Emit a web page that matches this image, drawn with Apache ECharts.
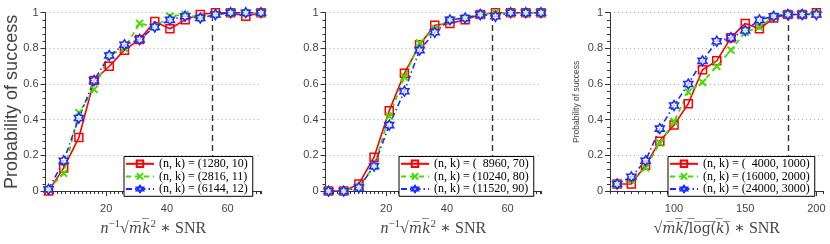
<!DOCTYPE html>
<html><head><meta charset="utf-8">
<script src="https://cdn.jsdelivr.net/npm/echarts@6/dist/echarts.min.js"></script>
<style>html,body{margin:0;padding:0;background:#fff}#c{width:830px;height:244px}</style>
</head><body><div id="c"></div>
<script>
// ---------- data ----------
const xsA = [1, 6, 11, 16, 21, 26, 31, 36, 41, 46, 51, 56, 61, 66, 71];
const xsB = [60, 70, 80, 90, 100, 110, 120, 130, 140, 150, 160, 170, 180, 190, 200];

const p1Names = ['(n, k) = (1280, 10)', '(n, k) = (2816, 11)', '(n, k) = (6144, 12)'];
const p1Red   = [0, 0.13, 0.30, 0.62, 0.70, 0.79, 0.85, 0.95, 0.91, 0.96, 0.99, 1, 1, 0.98, 1];
const p1Green = [0.01, 0.10, 0.44, 0.57, 0.76, 0.80, 0.94, 0.92, 0.98, 0.99, 0.97, 0.99, 1, 1, 1];
const p1Blue  = [0.01, 0.17, 0.41, 0.62, 0.76, 0.82, 0.85, 0.92, 0.96, 0.98, 0.97, 0.99, 1, 1, 1];

const p2Names = ['(n, k) = (\u20078960, 70)', '(n, k) = (10240, 80)', '(n, k) = (11520, 90)'];
const p2Red   = [0, 0, 0.04, 0.19, 0.45, 0.66, 0.82, 0.93, 0.94, 0.96, 0.99, 1, 1, 1, 1];
const p2Green = [0, 0, 0.025, 0.14, 0.42, 0.64, 0.83, 0.91, 0.96, 0.97, 0.99, 1, 1, 1, 1];
const p2Blue  = [0, 0, 0.02, 0.14, 0.37, 0.56, 0.79, 0.89, 0.96, 0.97, 0.99, 0.98, 1, 1, 1];

const p3Names = ['(n, k) = (\u20074000, 1000)', '(n, k) = (16000, 2000)', '(n, k) = (24000, 3000)'];
const p3Red   = [0.04, 0.04, 0.145, 0.28, 0.37, 0.49, 0.68, 0.73, 0.86, 0.94, 0.91, 0.97, 0.99, 0.99, 1];
const p3Green = [0.04, 0.06, 0.13, 0.27, 0.39, 0.555, 0.61, 0.70, 0.79, 0.89, 0.92, 0.98, 0.99, 0.99, 0.995];
const p3Blue  = [0.04, 0.08, 0.17, 0.35, 0.48, 0.60, 0.73, 0.84, 0.86, 0.90, 0.96, 0.98, 0.99, 0.99, 0.99];

const ticksA = [20, 40, 60];
const ticksB = [100, 150, 200];
const thresholdA = 55;
const thresholdB = 180;

// ---------- styling ----------
const RED = '#ff0000', GREEN = '#44dd00', BLUE = '#1a2cff';
const AX = '#333333', LAB = '#444444';
const SERIF = '"Liberation Serif", "DejaVu Serif", serif';
const SANS = '"Liberation Sans", Arial, sans-serif';
const HEX = 'path://M10,0L12.89,5L18.66,5L15.77,10L18.66,15L12.89,15L10,20L7.11,15L1.34,15L4.23,10L1.34,5L7.11,5Z';
const CROSS = 'path://M0,0L10,10M10,0L0,10';

const grids = [
  {left: 45.5, top: 12.7, width: 215.5, height: 188.3},
  {left: 325.5, top: 12.7, width: 215.5, height: 188.3},
  {left: 610, top: 12.7, width: 213.5, height: 188.3}
];

const ovl = s => s.split('').map(c => c + '\u0305').join('');
const richX = {
  i: {fontFamily: SERIF, fontStyle: 'italic', fontSize: 16, color: LAB},
  n: {fontFamily: SERIF, fontSize: 16, color: LAB},
  sup: {fontFamily: SERIF, fontSize: 11, color: LAB, verticalAlign: 'top', padding: [0,0,6,0]},
  ov: {fontFamily: '"DejaVu Serif", serif', fontStyle: 'italic', fontSize: 14, color: LAB},
  ovn: {fontFamily: '"DejaVu Serif", serif', fontSize: 14, color: LAB}
};
const nameA = '{i|n}{sup|\u22121}{n|\u221A}{ov|' + ovl('mk') + '}{sup|2}{n| \u2217 SNR}';
const nameB = '{n|\u221A}{ov|' + ovl('mk') + '}{ovn|' + ovl('/log(') + '}{ov|' + ovl('k') + '}{ovn|' + ovl(')') + '}{n| \u2217 SNR}';

function xAxes(gi, min, max, minorInt, majors, name) {
  return [
    {gridIndex: gi, type: 'value', position: 'bottom', min: min, max: max, interval: minorInt,
     axisLine: {show: true, onZero: false, lineStyle: {color: AX, width: 1}},
     axisTick: {show: true, length: 3, lineStyle: {color: AX}},
     axisLabel: {show: false}, splitLine: {show: false}},
    {gridIndex: gi, type: 'value', position: 'bottom', min: min, max: max, interval: minorInt,
     axisLine: {show: false, onZero: false},
     axisTick: {show: true, length: 5, customValues: majors, lineStyle: {color: AX}},
     axisLabel: {show: true, customValues: majors, fontFamily: SANS, fontSize: 11, color: LAB, margin: 12},
     splitLine: {show: false},
     name: name, nameLocation: 'middle', nameGap: 22,
     nameTextStyle: {rich: richX, lineHeight: 20}}
  ];
}
function yAxis(gi, name, nameSize, nameGap, moveOverlap) {
  return {gridIndex: gi, type: 'value', min: 0, max: 1, interval: 0.2,
    axisLine: {show: true, lineStyle: {color: AX}},
    axisTick: {show: true, length: 5, lineStyle: {color: AX}},
    minorTick: {show: true, splitNumber: 5, length: 3, lineStyle: {color: AX}},
    axisLabel: {fontFamily: SANS, fontSize: 11, color: LAB, margin: 7},
    splitLine: {show: true, lineStyle: {color: '#aaaaaa', type: [1, 3], width: 1}},
    name: name, nameLocation: 'middle', nameGap: nameGap, nameMoveOverlap: moveOverlap,
    nameTextStyle: {fontFamily: SANS, fontSize: nameSize, color: LAB}};
}

function mkSeries(gi, xs, names, vals, thr) {
  const pts = v => xs.map((x, i) => [x, v[i]]);
  return [
    {name: names[0], type: 'line', xAxisIndex: 2 * gi, yAxisIndex: gi, data: pts(vals[0]),
     symbol: 'rect', symbolSize: 8, color: RED,
     lineStyle: {color: RED, width: 1.6, type: 'solid'},
     itemStyle: {color: 'rgba(255,255,255,0)', borderColor: RED, borderWidth: 1.5},
     markLine: {silent: true, symbol: ['none', 'none'], label: {show: false}, z: 1,
       lineStyle: {color: '#333', type: [6, 4], width: 1.4}, data: [{xAxis: thr}]}},
    {name: names[1], type: 'line', xAxisIndex: 2 * gi, yAxisIndex: gi, data: pts(vals[1]),
     symbol: CROSS, symbolSize: 7, color: GREEN,
     lineStyle: {color: GREEN, width: 1.8, type: [5, 4]},
     itemStyle: {color: 'rgba(255,255,255,0)', borderColor: GREEN, borderWidth: 2}},
    {name: names[2], type: 'line', xAxisIndex: 2 * gi, yAxisIndex: gi, data: pts(vals[2]),
     symbol: HEX, symbolSize: [9, 10], color: BLUE,
     lineStyle: {color: BLUE, width: 1.6, type: [6, 3, 1.5, 3]},
     itemStyle: {color: 'rgba(255,255,255,0.7)', borderColor: BLUE, borderWidth: 1.5}}
  ];
}

function legend(names, left) {
  return {data: names, orient: 'vertical', left: left, top: 156.5, z: 50, zlevel: 0,
    itemWidth: 28, itemHeight: 8, itemGap: 0,
    padding: [1, 5, 1, 1], borderColor: '#000', borderWidth: 1, backgroundColor: '#fff',
    textStyle: {fontFamily: SERIF, fontSize: 12, color: '#000', lineHeight: 12.6}};
}

const option = {
  animation: false,
  backgroundColor: '#fff',
  grid: grids,
  xAxis: [].concat(
    xAxes(0, 0, 71, 4 / 3, ticksA, nameA),
    xAxes(1, 0, 71, 4 / 3, ticksA, nameA),
    xAxes(2, 55, 205, 5, ticksB, nameB)
  ),
  yAxis: [yAxis(0, 'Probability of success', 18, 24, false), yAxis(1, '', 12, 20, true), yAxis(2, 'Probability of success', 8.5, 29, true)],
  legend: [legend(p1Names, 124), legend(p2Names, 399), legend(p3Names, 668)],
  series: [].concat(
    mkSeries(0, xsA, p1Names, [p1Red, p1Green, p1Blue], thresholdA),
    mkSeries(1, xsA, p2Names, [p2Red, p2Green, p2Blue], thresholdA),
    mkSeries(2, xsB, p3Names, [p3Red, p3Green, p3Blue], thresholdB)
  )
};
const chart = echarts.init(document.getElementById('c'), null, {renderer: 'canvas'});
chart.setOption(option);
</script></body></html>
